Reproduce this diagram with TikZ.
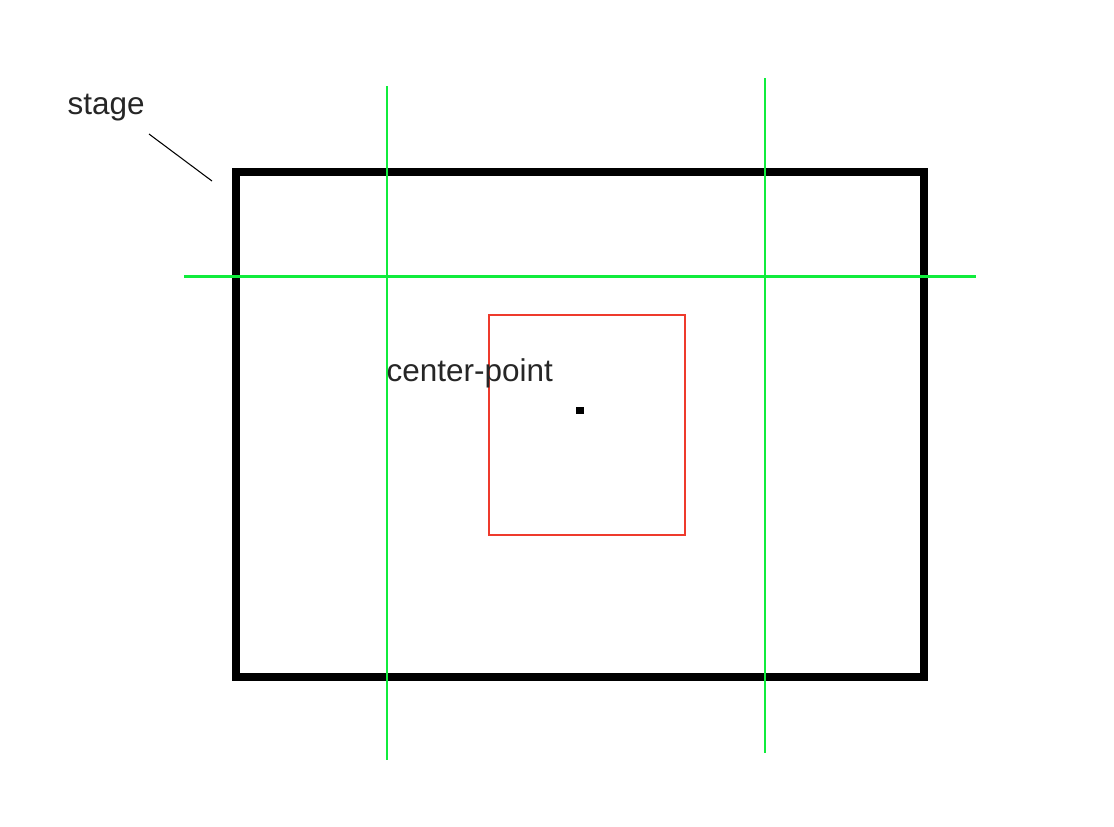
\documentclass[tikz,border=0pt]{standalone}
\usepackage{fontspec}
\setmainfont{Liberation Sans}
\usetikzlibrary{positioning}
\definecolor{guideGreen}{HTML}{10EC3C}
\definecolor{boxRed}{HTML}{EE3A2C}
\tikzset{
  stageBox/.style={draw=black, line width=2pt},
  guideLine/.style={draw=guideGreen, line width=0.6pt},
  innerBox/.style={draw=boxRed, line width=0.45pt},
  label/.style={font=\fontsize{8.95}{10}\selectfont, text=black!85, inner sep=0pt},
  leader/.style={draw=black, line width=0.3pt},
}

\begin{document}
\begin{tikzpicture}[x=0.01cm, y=-0.01cm]
    \useasboundingbox (0,0) rectangle (1114,826);

    % stage
    \draw[stageBox] (236,172) rectangle (924,677);
    \node[label, anchor=base west] (stage) at (67,114) {stage};
    \coordinate (lead-a) at (149,134);
    \coordinate (lead-b) at (212,181);
    \draw[leader] (lead-a) -- (lead-b);

    % guides
    \draw[guideLine] (387,86) -- (387,760);
    \draw[guideLine] (765,78) -- (765,753);
    \draw[guideLine] (184,276.5) -- (976,276.5);

    % inner box and center point
    \draw[innerBox] (489,315) rectangle (685,535);
    \node[fill=black, minimum size=0.07cm, inner sep=0pt] (dot) at (580,410) {};
    \node[label, anchor=base west] (center) at (386,381) {center-point};
  \end{tikzpicture}
\end{document}
